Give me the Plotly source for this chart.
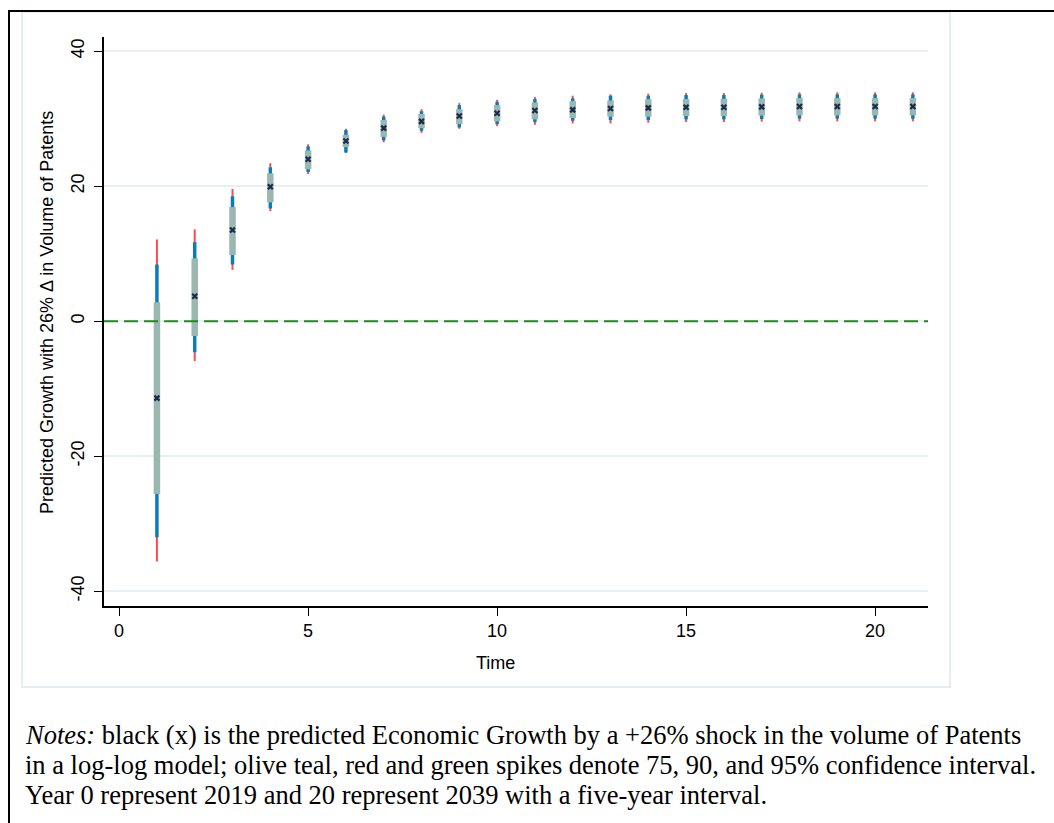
import plotly.graph_objects as go

# ---- data ----
time = list(range(1, 22))
estimate = [-11.4, 3.7, 13.5, 19.9, 24.0, 26.7, 28.6, 29.6, 30.4, 30.8, 31.2, 31.3,
            31.5, 31.6, 31.7, 31.7, 31.75, 31.8, 31.8, 31.8, 31.8]
ci75_lo = [-25.6, -2.2, 9.8, 17.6, 22.5, 25.8, 27.3, 28.6, 29.2, 29.6, 29.9, 30.1,
           30.3, 30.3, 30.4, 30.4, 30.45, 30.5, 30.5, 30.5, 30.5]
ci75_hi = [2.8, 9.3, 16.9, 21.9, 25.3, 27.6, 29.8, 30.7, 31.4, 32.0, 32.4, 32.6,
           32.7, 32.9, 32.9, 32.95, 33.0, 33.05, 33.05, 33.05, 33.05]
ci90_lo = [-32.0, -4.6, 8.4, 16.7, 22.1, 25.0, 26.8, 28.2, 28.7, 29.2, 29.5, 29.7,
           29.8, 29.8, 29.9, 29.9, 29.95, 30.0, 30.0, 30.0, 30.0]
ci90_hi = [8.4, 11.7, 18.5, 22.8, 25.9, 28.3, 30.3, 31.1, 32.0, 32.5, 32.9, 33.0,
           33.4, 33.4, 33.5, 33.5, 33.55, 33.6, 33.6, 33.6, 33.6]
ci95_lo = [-35.6, -5.9, 7.6, 16.3, 21.8, 24.9, 26.5, 27.9, 28.5, 28.9, 29.1, 29.3,
           29.3, 29.4, 29.5, 29.5, 29.55, 29.6, 29.6, 29.6, 29.6]
ci95_hi = [12.1, 13.6, 19.6, 23.4, 26.2, 28.5, 30.6, 31.4, 32.3, 32.8, 33.2, 33.4,
           33.6, 33.7, 33.8, 33.8, 33.85, 33.9, 33.9, 33.9, 33.9]
x_ticks = [0, 5, 10, 15, 20]
y_ticks = [-40, -20, 0, 20, 40]
y_ticktext = ["-40", "-20", "0", "20", "40"]
x_title = "Time"
y_title = "Predicted Growth with 26% Δ in Volume of Patents"
notes = [
    "<i>Notes:</i> black (x) is the predicted Economic Growth by a +26% shock in the volume of Patents",
    "in a log-log model; olive teal, red and green spikes denote 75, 90, and 95% confidence interval.",
    "Year 0 represent 2019 and 20 represent 2039 with a five-year interval.",
]

W, H = 1054, 823
L, R, T, B = 104, 928, 37, 606
SANS = "Liberation Sans, Arial"


def seg(xs, lo, hi):
    sx, sy = [], []
    for a, b, c in zip(xs, lo, hi):
        sx += [a, a, None]
        sy += [b, c, None]
    return sx, sy


def px(x):
    return (x - L) / (R - L)


def py(y):
    return (B - y) / (B - T)


fig = go.Figure()
for lo, hi, col, w in [(ci95_lo, ci95_hi, "#ff4a4a", 2),
                       (ci90_lo, ci90_hi, "#0b7db6", 3.5),
                       (ci75_lo, ci75_hi, "#9bb7b2", 6.5)]:
    sx, sy = seg(time, lo, hi)
    fig.add_trace(go.Scatter(x=sx, y=sy, mode="lines",
                             line=dict(color=col, width=w),
                             hoverinfo="skip", showlegend=False))

fig.add_trace(go.Scatter(x=time, y=estimate, mode="markers",
                         marker=dict(symbol="x-thin", size=5, color="#1b2b4b",
                                     line=dict(width=2.2, color="#1b2b4b")),
                         showlegend=False))

shapes = [
    dict(type="rect", xref="paper", yref="paper", x0=px(22), x1=px(950),
         y0=py(687), y1=py(12), line=dict(color="#e6edef", width=2), layer="below"),
    dict(type="line", xref="paper", yref="paper", x0=px(8), x1=px(1054),
         y0=py(11), y1=py(11), line=dict(color="black", width=2)),
    dict(type="line", xref="paper", yref="paper", x0=px(9), x1=px(9),
         y0=py(11), y1=py(823), line=dict(color="black", width=2)),
    dict(type="line", xref="paper", yref="y", x0=0, x1=1, y0=0, y1=0,
         line=dict(color="#1e8c1e", width=2, dash="14px,6px")),
]

annotations = [
    dict(xref="paper", yref="paper", x=px(495), y=py(663), xanchor="center",
         yanchor="middle", showarrow=False, text=x_title,
         font=dict(family=SANS, size=18, color="black")),
    dict(xref="paper", yref="paper", x=px(47), y=py(313), xanchor="center",
         yanchor="middle", showarrow=False, text=y_title, textangle=-90,
         font=dict(family=SANS, size=18, color="black")),
]
for i, line in enumerate(notes):
    annotations.append(dict(
        xref="paper", yref="paper", x=px(23), y=py(735 + 30 * i),
        xanchor="left", yanchor="middle", align="left", showarrow=False,
        font=dict(family="Liberation Serif, serif", size=26.5, color="black"),
        text=line))

fig.update_layout(
    width=W, height=H,
    margin=dict(l=L, r=W - R, t=T, b=H - B, pad=0),
    paper_bgcolor="white", plot_bgcolor="white",
    font=dict(family=SANS, size=18, color="black"),
    shapes=shapes,
    xaxis=dict(range=[-0.4, 21.4], tickvals=x_ticks, ticks="outside", ticklen=8,
               tickcolor="black", showline=True, linecolor="black", linewidth=1.5,
               showgrid=False, zeroline=False,
               tickfont=dict(family=SANS, size=18, color="black")),
    yaxis=dict(range=[-42.2, 42.1], tickvals=y_ticks, ticktext=y_ticktext,
               tickangle=-90, ticks="outside", ticklabelstandoff=3,
               ticklen=8, tickcolor="black", showline=True, linecolor="black",
               linewidth=1.5, showgrid=True, gridcolor="#eaf0f2", gridwidth=1.5,
               zeroline=False,
               tickfont=dict(family=SANS, size=18, color="black")),
    annotations=annotations,
)

fig.write_html("out.html")
